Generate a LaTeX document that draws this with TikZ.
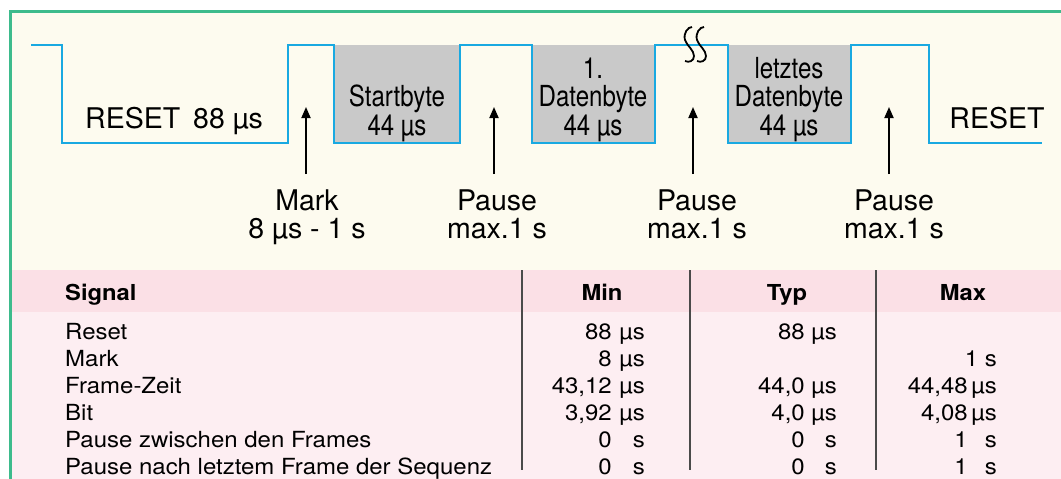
\documentclass[tikz,border=0pt]{standalone}
\usepackage{fontspec}
\setmainfont{TeX Gyre Heros}
\newfontfamily\condfont[FakeStretch=0.83]{TeX Gyre Heros}
\newfontfamily\tabfont[FakeStretch=1.08]{TeX Gyre Heros}
\usetikzlibrary{arrows.meta}
\definecolor{framegreen}{HTML}{3DBB8C}
\definecolor{cream}{HTML}{FDFBEF}
\definecolor{headpink}{HTML}{FBE0E6}
\definecolor{bodypink}{HTML}{FDEEF2}
\definecolor{sig}{HTML}{19A9E1}
\definecolor{boxgrey}{HTML}{C9C9C9}
\definecolor{rulegrey}{HTML}{4A4A4A}
\begin{document}
\begin{tikzpicture}[x=1pt,y=-1pt,
  lbl/.style={inner sep=0pt,anchor=base,font=\fontsize{28.5}{28.5}\selectfont},
  cnd/.style={inner sep=0pt,anchor=base,font=\condfont\fontsize{29}{29}\selectfont},
  tab/.style={inner sep=0pt,font=\tabfont\fontsize{22.2}{22.2}\selectfont},
  tabh/.style={inner sep=0pt,anchor=base,font=\tabfont\bfseries\fontsize{22}{22}\selectfont},
  uparrow/.style={-{Triangle[length=11pt,width=9pt]},line width=1.8pt,black},
  brk/.style={line width=1.8pt,black}]
\useasboundingbox (0,0) rectangle (1061,479);
\fill[white] (0,0) rectangle (1061,479);
\fill[cream] (10,11) rectangle (1061,479);
\fill[headpink] (11,270) rectangle (1061,312);
\fill[bodypink] (11,312) rectangle (1061,479);
\draw[framegreen,line width=3pt] (10,479) -- (10,11) -- (1061,11);

% grey byte boxes
\fill[boxgrey] (334,45) rectangle (460,143);
\fill[boxgrey] (532,45) rectangle (655,143);
\fill[boxgrey] (728,45) rectangle (851,143);

% waveform
\draw[sig,line width=2.5pt,line join=miter] (31,45) -- (62,45) -- (62,143) -- (288,143) -- (288,45) -- (334,45) -- (334,143) -- (460,143) -- (460,45) -- (532,45) -- (532,143) -- (655,143) -- (655,45) -- (728,45) -- (728,143) -- (851,143) -- (851,45) -- (929,45) -- (929,143) -- (1042,143);

% break symbol
\draw[brk] (692,27) .. controls (688,27) and (683,33) .. (685,40) .. controls (687,46) and (694,50) .. (694,56) .. controls (694,61) and (689,63) .. (685,61);
\draw[brk] (704,27) .. controls (700,27) and (695,33) .. (697,40) .. controls (699,46) and (706,50) .. (706,56) .. controls (706,61) and (701,63) .. (697,61);

% texts in waveform
\node[lbl,anchor=base west] (reset1) at (85,128) {RESET\hspace{13pt}88 µs};
\node[lbl] (reset2) at (997,128) {RESET};
\node[cnd] (sb1) at (397,106) {Startbyte};
\node[cnd] (sb2) at (397,135) {44 µs};
\node[cnd] (db0) at (593,78) {1.};
\node[cnd] (db1) at (593,106) {Datenbyte};
\node[cnd] (db2) at (593,135) {44 µs};
\node[cnd] (lb0) at (789,78) {letztes};
\node[cnd] (lb1) at (789,106) {Datenbyte};
\node[cnd] (lb2) at (789,135) {44 µs};

% arrows
\coordinate (a1s) at (306,174); \coordinate (a1e) at (306,107);
\coordinate (a2s) at (494,174); \coordinate (a2e) at (494,107);
\coordinate (a3s) at (693,174); \coordinate (a3e) at (693,107);
\coordinate (a4s) at (889,174); \coordinate (a4e) at (889,107);
\draw[uparrow] (a1s) -- (a1e);
\draw[uparrow] (a2s) -- (a2e);
\draw[uparrow] (a3s) -- (a3e);
\draw[uparrow] (a4s) -- (a4e);

\node[lbl] (mk1) at (307,210) {Mark};
\node[lbl] (mk2) at (307,238) {8 µs - 1 s};
\node[lbl] (p1a) at (497,210) {Pause};
\node[lbl] (p1b) at (497,238) {max.1 s};
\node[lbl] (p2a) at (697,210) {Pause};
\node[lbl] (p2b) at (697,238) {max.1 s};
\node[lbl] (p3a) at (894,210) {Pause};
\node[lbl] (p3b) at (894,238) {max.1 s};

% table rules
\draw[rulegrey,line width=2pt] (522,270) -- (522,470);
\draw[rulegrey,line width=2pt] (690,270) -- (690,470);
\draw[rulegrey,line width=2pt] (876,270) -- (876,470);

% header
\node[tabh,anchor=base west] (hs) at (65,300) {Signal};
\node[tabh] (hmin) at (602,300) {Min};
\node[tabh] (htyp) at (787,300) {Typ};
\node[tabh] (hmax) at (963,300) {Max};

% rows
\foreach \i/\t in {0/Reset,1/Mark,2/Frame-Zeit,3/Bit,4/Pause zwischen den Frames,5/Pause nach letztem Frame der Sequenz}{
  \node[tab,anchor=base west] (r\i) at (65,339+27*\i) {\t};
}
% min column
\foreach \i/\v/\u in {0/88/µs,1/8/µs,2/{43,12}/µs,3/{3,92}/µs,4/0/s,5/0/s}{
  \node[tab,anchor=base east] (mn\i) at (612,339+27*\i) {\v};
  \node[tab,anchor=base east] (mu\i) at (645,339+27*\i) {\u};
}
% typ column
\foreach \i/\v/\u in {0/88/µs,2/{44,0}/µs,3/{4,0}/µs,4/0/s,5/0/s}{
  \node[tab,anchor=base east] (tn\i) at (805,339+27*\i) {\v};
  \node[tab,anchor=base east] (tu\i) at (837,339+27*\i) {\u};
}
% max column
\node[tab,anchor=base east] (xm1) at (997,366) {1 s};
\foreach \i/\v/\u in {2/{44,48}/µs,3/{4,08}/µs}{
  \node[tab,anchor=base east] (xn\i) at (968,339+27*\i) {\v};
  \node[tab,anchor=base east] (xu\i) at (997,339+27*\i) {\u};
}
\foreach \i in {4,5}{
  \node[tab,anchor=base east] (xn\i) at (968,339+27*\i) {1};
  \node[tab,anchor=base east] (xu\i) at (997,339+27*\i) {s};
}
\end{tikzpicture}
\end{document}
